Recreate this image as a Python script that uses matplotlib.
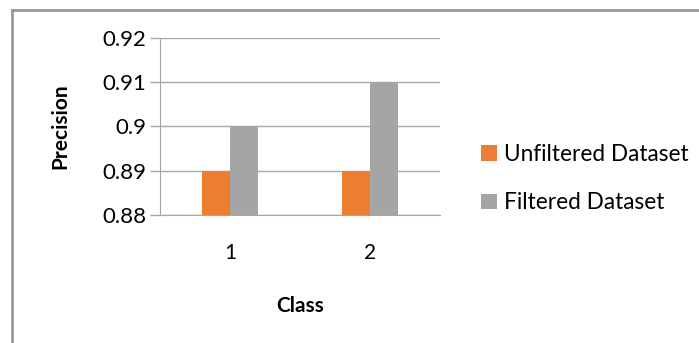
import matplotlib.pyplot as plt
from matplotlib.lines import Line2D
import numpy as np

plt.rcParams['font.family'] = ['Lato', 'DejaVu Sans']

# data
classes = ['1', '2']
unfiltered = [0.89, 0.89]
filtered = [0.90, 0.91]
y_ticks = [0.88, 0.89, 0.9, 0.91, 0.92]
y_labels = ['0.88', '0.89', '0.9', '0.91', '0.92']

orange = '#ED7D31'
gray = '#A5A5A5'

fig = plt.figure(figsize=(6.99, 3.43), dpi=100)
ax = fig.add_axes([0.2289, 0.3732, 0.4006, 0.516])

x = np.arange(1, len(classes) + 1)
w = 0.2
ax.bar(x - w / 2, unfiltered, w, color=orange, label='Unfiltered Dataset', zorder=3)
ax.bar(x + w / 2, filtered, w, color=gray, label='Filtered Dataset', zorder=3)

ax.set_xlim(0.5, 2.5)
ax.set_ylim(0.88, 0.92)
ax.set_yticks(y_ticks)
ax.set_yticklabels(y_labels, fontsize=16)
ax.set_xticks(x)
ax.set_xticklabels(classes, fontsize=15)
ax.tick_params(axis='x', length=0, pad=20)
ax.tick_params(axis='y', length=7, color='#A6A6A6', width=1, pad=3)
ax.yaxis.grid(True, color='#A6A6A6', lw=1, zorder=0)

for s in ['top', 'right']:
    ax.spines[s].set_visible(False)
ax.spines['left'].set_color('#A6A6A6')
ax.spines['bottom'].set_color('#A6A6A6')

ax.set_xlabel('Class', fontsize=15, fontweight='bold', labelpad=24)
ax.set_ylabel('Precision', fontsize=15, fontweight='bold', labelpad=23)

ax.legend(loc='center left', bbox_to_anchor=(1.075, 0.205), frameon=False,
          fontsize=16.3, handlelength=0.68, handleheight=0.68, handletextpad=0.33,
          labelspacing=1.2)

# outer frame (top and left visible)
fig.add_artist(Line2D([12 / 699, 1], [1 - 10 / 343, 1 - 10 / 343],
                      color='#999999', lw=2, transform=fig.transFigure))
fig.add_artist(Line2D([12 / 699, 12 / 699], [0, 1 - 10 / 343],
                      color='#999999', lw=2, transform=fig.transFigure))

fig.savefig('out.png', dpi=100)
